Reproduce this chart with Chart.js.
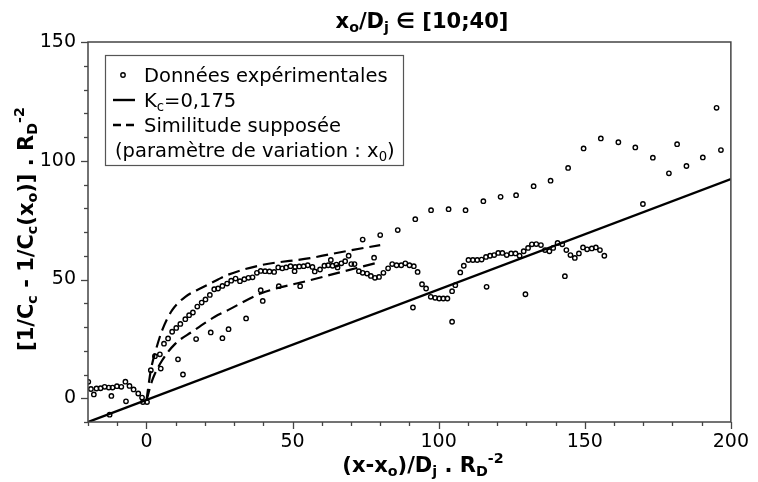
<!DOCTYPE html>
<html>
<head>
<meta charset="utf-8">
<script src="https://cdn.jsdelivr.net/npm/chart.js@4.4.1/dist/chart.umd.min.js"></script>
<style>
  html, body { margin: 0; padding: 0; background: #fff; }
  #wrap { width: 758px; height: 482px; }
</style>
</head>
<body>
<div id="wrap"><canvas id="chart"></canvas></div>
<script>
// experimental points, dense run
const expX = [-19.9, -19, -17.1, -15.7, -14.3, -12.9, -11.6, -10.1, -8.6, -7.2, -5.8, -4.4, -2.8, -1.5, -1.2, 0.2,
  1.5, 2.9, 4.6, 6, 7.4, 8.8, 10.2, 11.6, 13.3, 14.6, 15.9, 17.4, 18.9, 20.2, 21.7, 23.2, 24.5, 26, 27.6, 29,
  30.5, 32, 33.5, 34.9, 36.3, 37.8, 39.1, 40.6, 42.1, 43.7, 45.1, 46.5, 47.8, 49.3, 50.7, 52.3, 53.8, 55.2,
  56.8, 57.6, 59.4, 60.9, 62.2, 63.7, 65, 66.7, 68, 70.1, 71.2, 72.7, 74, 75.5, 76.8, 78.2, 79.6, 81.1, 82.7,
  84.1, 85.6, 87.2, 88.6, 90, 91.5, 92.8, 94.3, 95.7, 97.3, 98.8, 100.2, 101.6, 103, 104.6, 105.7, 107.4,
  108.6, 110.2, 111.7, 113.2, 114.7, 116.2, 117.6, 119, 120.4, 121.8, 123.3, 124.8, 126.3, 127.7, 129.1,
  130.6, 131.9, 133.4, 135, 136.4, 137.9, 139.2, 140.7, 142.3, 143.7, 145.1, 146.6, 148, 149.4, 150.8,
  152.4, 153.8, 155.2, 156.7]
const expY = [6.9, 3.9, 4.1, 4.2, 4.8, 4.5, 4.5, 5.1, 4.8, 7.0, 5.2, 3.7, 2.0, 0.3, -1.6, -1.6,
  11.8, 17.7, 18.5, 23, 25.2, 28, 29.6, 31.3, 33.3, 35, 36.1, 38.6, 40.3, 41.6, 43.5, 45.9, 46.2, 47.3, 48.3, 49.5,
  50.4, 49.3, 50.1, 50.7, 50.9, 52.8, 53.6, 53.5, 53.4, 53.2, 55.1, 54.7, 55.1, 55.6, 53.5, 55.5, 55.6, 56,
  55.3, 53.4, 54.2, 55.8, 56, 55.8, 56.3, 56.8, 57.7, 56.5, 56.5, 53.5, 52.8, 52.5, 51.5, 50.7, 51.1, 52.8, 54.7,
  56.5, 56, 56, 56.8, 56, 55.6, 53.2, 48, 46.2, 42.7, 42.3, 42, 42, 42, 45.1, 47.6, 53,
  55.8, 58.2, 58.2, 58.2, 58.4, 59.5, 60, 60.3, 61.2, 61.2, 60.3, 61, 61, 60, 61.9,
  63.3, 64.8, 64.9, 64.5, 62.4, 61.9, 63.3, 65.4, 64.8, 62.4, 60.3, 59.1, 61, 63.5, 62.7,
  63.1, 63.5, 62.4, 60]

// experimental points, sparse runs
const sparseX = [-18, -12.6, -12, -7, 4.9, 10.8, 12.5, 17, 22, 26, 28.1, 34.1, 39.1, 39.8, 45.3, 50.9, 52.6,
  63.1, 65.4, 69.2, 74, 77.9, 80, 86, 91.2, 92, 97.4, 103.4, 104.6, 109.2, 115.3, 116.4, 121.2, 126.5,
  129.7, 132.5, 138.3, 143.2, 144.3, 149.6, 155.5, 161.5, 167.3, 169.9, 173.3, 178.8, 181.6, 184.8,
  190.4, 195.1, 196.6]
const sparseY = [1.6, -6.9, 1, -1.3, 12.5, 16.4, 10, 24.9, 27.7, 25.3, 29.1, 33.6, 45.5, 41, 47.2, 55.3, 47.2,
  58.2, 55.1, 60, 66.8, 59.2, 68.7, 70.8, 38.2, 75.4, 79.2, 79.6, 32.2, 79.2, 83, 46.9, 84.8, 85.5,
  43.8, 89.3, 91.6, 51.4, 97, 105.2, 109.4, 107.8, 105.6, 81.8, 101.3, 94.7, 107, 97.8,
  101.4, 122.3, 104.5]

// Kc = 0,175 line
const kcX = [-20, 200]
const kcY = [-10, 92.3]

// assumed similitude curves (dashed)
const upX = [0, 1.5, 3.2, 5.4, 8.8, 13.3, 18.9, 24.5, 27.9, 39.1, 56, 67.3, 80]
const upY = [-1, 11.8, 20.2, 28.7, 37.1, 42.7, 46.5, 50, 52, 56, 59, 61.7, 64.5]
const lowX = [0, 2, 5.4, 9.9, 15.5, 23.4, 27.9, 39.1, 56, 80]
const lowY = [-1, 7.6, 16, 23, 27.9, 34.3, 37.1, 44.1, 49.7, 57.4]

const xLabels = [0, 50, 100, 150, 200]
const yLabels = [0, 50, 100, 150]

const FONT = "'DejaVu Sans', sans-serif"
const SUB = 0.68

function pts(xs, ys) {
  return xs.map((x, i) => ({x: x, y: ys[i]}))
}

// text with sub/superscripts, y = baseline
function richWidth(ctx, parts, size, bold) {
  let w = 0
  parts.forEach(p => {
    const s = p[1] === 'n' ? size : size * SUB
    ctx.font = (bold ? 'bold ' : '') + s + 'px ' + FONT
    w += ctx.measureText(p[0]).width
  })
  return w
}
function drawRich(ctx, parts, x, y, size, bold, align) {
  let cx = x
  const w = richWidth(ctx, parts, size, bold)
  if (align === 'center') cx = x - w / 2
  ctx.textAlign = 'left'
  ctx.textBaseline = 'alphabetic'
  parts.forEach(p => {
    const s = p[1] === 'n' ? size : size * SUB
    let dy = 0
    if (p[1] === 'sub') dy = size * 0.2
    if (p[1] === 'sup') dy = -size * 0.42
    ctx.font = (bold ? 'bold ' : '') + s + 'px ' + FONT
    ctx.fillText(p[0], cx, y + dy)
    cx += ctx.measureText(p[0]).width
  })
}

const decor = {
  id: 'decor',
  afterDraw(chart) {
    const ctx = chart.ctx
    const a = chart.chartArea
    const xs = chart.scales.x, ys = chart.scales.y
    ctx.save()
    // frame
    ctx.strokeStyle = '#444'
    ctx.lineWidth = 1.5
    ctx.strokeRect(a.left, a.top, a.right - a.left, a.bottom - a.top)
    // tick marks, major every 50, minor every 10
    ctx.lineWidth = 1.3
    for (let v = -20; v <= 200; v += 10) {
      const px = Math.round(xs.getPixelForValue(v)) + 0.5
      const len = v % 50 === 0 ? 7 : 4
      ctx.beginPath(); ctx.moveTo(px, a.bottom); ctx.lineTo(px, a.bottom + len); ctx.stroke()
    }
    for (let v = -10; v <= 150; v += 10) {
      const py = Math.round(ys.getPixelForValue(v)) + 0.5
      const len = v % 50 === 0 ? 7 : 4
      ctx.beginPath(); ctx.moveTo(a.left, py); ctx.lineTo(a.left - len, py); ctx.stroke()
    }
    ctx.fillStyle = '#000'
    // title
    drawRich(ctx, [['x', 'n'], ['o', 'sub'], ['/D', 'n'], ['j', 'sub'], [' \u2208 [10;40]', 'n']], 422, 28, 21, true, 'center')
    // x axis title
    drawRich(ctx, [['(x-x', 'n'], ['o', 'sub'], [')/D', 'n'], ['j', 'sub'], [' . R', 'n'], ['D', 'sub'], ['-2', 'sup']], 423, 472, 21, true, 'center')
    // y axis title
    ctx.save()
    ctx.translate(33, 229)
    ctx.rotate(-Math.PI / 2)
    drawRich(ctx, [['[1/C', 'n'], ['c', 'sub'], [' - 1/C', 'n'], ['c', 'sub'], ['(x', 'n'], ['o', 'sub'], [')] . R', 'n'], ['D', 'sub'], ['-2', 'sup']], 0, 0, 21, true, 'center')
    ctx.restore()
    // legend
    ctx.fillStyle = '#fff'
    ctx.fillRect(105, 55, 298, 110)
    ctx.strokeStyle = '#555'
    ctx.lineWidth = 1.2
    ctx.strokeRect(105.5, 55.5, 298, 110)
    ctx.strokeStyle = '#000'
    ctx.lineWidth = 1.4
    ctx.beginPath(); ctx.arc(123, 75, 2.2, 0, Math.PI * 2); ctx.stroke()
    ctx.lineWidth = 2.4
    ctx.beginPath(); ctx.moveTo(113, 100); ctx.lineTo(135, 100); ctx.stroke()
    ctx.setLineDash([8, 5])
    ctx.beginPath(); ctx.moveTo(113, 125); ctx.lineTo(135, 125); ctx.stroke()
    ctx.setLineDash([])
    ctx.fillStyle = '#000'
    drawRich(ctx, [['Donn\u00e9es exp\u00e9rimentales', 'n']], 144, 82, 19.5, false)
    drawRich(ctx, [['K', 'n'], ['c', 'sub'], ['=0,175', 'n']], 144, 107, 19.5, false)
    drawRich(ctx, [['Similitude suppos\u00e9e', 'n']], 144, 132, 19.5, false)
    drawRich(ctx, [['(param\u00e8tre de variation : x', 'n'], ['0', 'sub'], [')', 'n']], 115, 157, 19.5, false)
    ctx.restore()
  }
}

const pointStyle = {
  pointStyle: 'circle',
  pointRadius: 2.2,
  pointBorderWidth: 1.4,
  pointBorderColor: '#000',
  pointBackgroundColor: 'rgba(0,0,0,0)',
  showLine: false,
}
const lineStyle = {
  showLine: true,
  pointRadius: 0,
  borderColor: '#000',
  fill: false,
}

new Chart(document.getElementById('chart'), {
  type: 'scatter',
  data: {
    datasets: [
      Object.assign({label: 'Données expérimentales', data: pts(expX, expY)}, pointStyle),
      Object.assign({label: 'Données expérimentales (suite)', data: pts(sparseX, sparseY)}, pointStyle),
      Object.assign({label: 'Kc=0,175', data: pts(kcX, kcY), borderWidth: 2.4}, lineStyle),
      Object.assign({label: 'Similitude supposée', data: pts(upX, upY), borderWidth: 2.2,
        borderDash: [12, 6], cubicInterpolationMode: 'monotone'}, lineStyle),
      Object.assign({label: 'Similitude supposée (2)', data: pts(lowX, lowY), borderWidth: 2.2,
        borderDash: [12, 6], cubicInterpolationMode: 'monotone'}, lineStyle),
    ],
  },
  options: {
    responsive: true,
    maintainAspectRatio: false,
    animation: false,
    layout: {
      padding: {top: 42, right: 18, left: 0, bottom: 0},
    },
    plugins: {
      legend: {display: false},
      title: {display: false},
      tooltip: {enabled: false},
    },
    scales: {
      x: {
        type: 'linear',
        min: -20,
        max: 200,
        grid: {display: false, drawTicks: false},
        border: {display: false},
        afterFit: s => { s.height = 60 },
        ticks: {
          stepSize: 10,
          autoSkip: false,
          maxRotation: 0,
          padding: 9,
          color: '#000',
          font: {family: FONT, size: 19},
          callback: v => xLabels.includes(v) ? String(v) : '',
        },
      },
      y: {
        type: 'linear',
        min: -10,
        max: 150,
        grid: {display: false, drawTicks: false},
        border: {display: false},
        afterFit: s => { s.width = 88 },
        ticks: {
          stepSize: 10,
          autoSkip: false,
          padding: 12,
          color: '#000',
          font: {family: FONT, size: 19},
          callback: v => yLabels.includes(v) ? String(v) : '',
        },
      },
    },
  },
  plugins: [decor],
})
</script>
</body>
</html>
